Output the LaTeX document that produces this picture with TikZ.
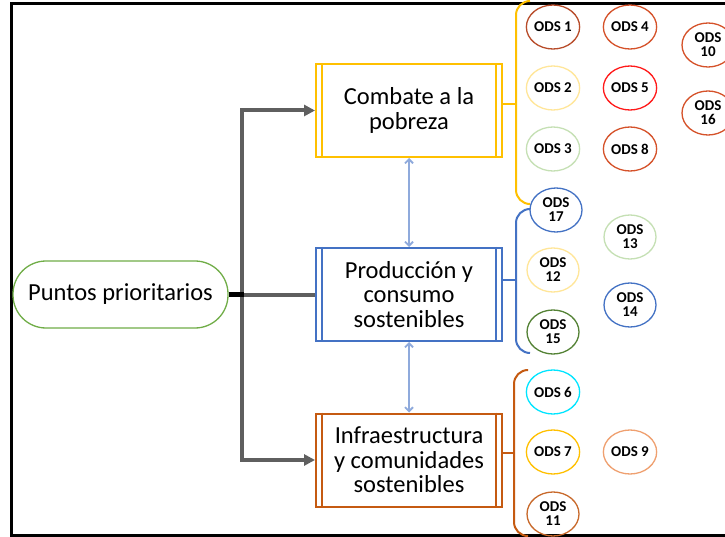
\documentclass[tikz,border=0pt]{standalone}
\usepackage{fontspec}
\setmainfont{Carlito}
\usetikzlibrary{arrows.meta,shapes.geometric}
\definecolor{cyel}{HTML}{FFC000}
\definecolor{cblue}{HTML}{4472C4}
\definecolor{corg}{HTML}{C55A11}
\definecolor{cgreen}{HTML}{70AD47}
\definecolor{clblue}{HTML}{8FAADC}
\definecolor{cgray}{HTML}{5F5F5F}
\definecolor{cbrown}{HTML}{B84C2A}
\definecolor{cred}{HTML}{D5522A}
\definecolor{cpyel}{HTML}{FFE699}
\definecolor{cbright}{HTML}{FF1A1A}
\definecolor{cpgreen}{HTML}{C5E0B4}
\definecolor{cdgreen}{HTML}{548235}
\definecolor{ccyan}{HTML}{00E5FF}
\definecolor{cpeach}{HTML}{EFA070}
\definecolor{cbrorg}{HTML}{C8692B}
\begin{document}
\begin{tikzpicture}[x=1pt,y=-1pt,
  ods/.style={draw, ellipse, minimum width=52pt, minimum height=44pt, inner sep=0pt,
    line width=1.3pt, align=center, font=\fontsize{15}{14}\selectfont\bfseries},
  pbox/.style={draw, line width=2pt, minimum width=186pt, minimum height=93pt,
    align=center, font=\fontsize{24.5}{24.5}\selectfont},
  garrow/.style={cgray, line width=4pt, {Triangle[length=11pt,width=11pt]}-{Triangle[length=11pt,width=11pt]}},
  lbarrow/.style={clblue, line width=1.8pt, {Straight Barb[length=4pt,width=8pt]}-{Straight Barb[length=4pt,width=8pt]}},
  brace/.style={line width=2pt, rounded corners=14pt}]
\clip (0,0) rectangle (725,537);
\fill[white] (0,0) rectangle (725,537);
\draw[line width=3pt] (11,4) rectangle (745,535);

% main nodes
\node[draw=cgreen, line width=1.3pt, rounded corners=33pt, minimum width=215pt, minimum height=67pt,
  font=\fontsize{24.5}{24.5}\selectfont] (pp) at (120.5,294.5) {Puntos prioritarios};
\node[pbox, draw=cyel] (b1) at (409,110.5) {Combate a la\\pobreza};
\node[pbox, draw=cblue] (b2) at (409,294.5) {Producción y\\consumo\\sostenibles};
\node[pbox, draw=corg] (b3) at (409,460) {Infraestructura\\y comunidades\\sostenibles};
\foreach \b/\c in {b1/cyel,b2/cblue,b3/corg}{
  \draw[\c, line width=2pt] ([xshift=7pt]\b.north west) -- ([xshift=7pt]\b.south west);
  \draw[\c, line width=2pt] ([xshift=-7pt]\b.north east) -- ([xshift=-7pt]\b.south east);
}

% trunk
\coordinate (t1) at (242,110.5);
\coordinate (t2) at (242,294.5);
\coordinate (t3) at (242,460);
\draw[garrow] (b1.west) -- (t1) -- (t3) -- (b3.west);
\draw[garrow, {-}] (t2) -- (b2.west);
\draw[black, line width=4.5pt] (pp.east) -- ([xshift=2pt]t2);

% light blue arrows
\draw[lbarrow] (b1.south) -- (b2.north);
\draw[lbarrow] (b2.south) -- (b3.north);

% brackets
\coordinate (y1) at (516,104);
\coordinate (y2) at (516,280);
\coordinate (y3) at (514,453);
\draw[cyel, brace] (530,1) -- (516,1) -- (516,204) -- (530,204);
\draw[cyel, line width=2pt] (b1.east |- y1) -- (y1);
\draw[cblue, brace] (530,209) -- (516,209) -- (516,353) -- (530,353);
\draw[cblue, line width=2pt] (b2.east |- y2) -- (y2);
\draw[corg, brace] (527,370) -- (514,370) -- (514,536) -- (528,536);
\draw[corg, line width=2pt] (b3.east |- y3) -- (y3);

% ODS circles
\node[ods, draw=cbrown] (o1) at (553,27) {ODS 1};
\node[ods, draw=cred] (o4) at (630,27) {ODS 4};
\node[ods, draw=cred] (o10) at (708,45) {ODS\\10};
\node[ods, draw=cpyel] (o2) at (553,88) {ODS 2};
\node[ods, draw=cbright] (o5) at (630,88) {ODS 5};
\node[ods, draw=cred] (o16) at (708,113) {ODS\\16};
\node[ods, draw=cpgreen] (o3) at (553,149) {ODS 3};
\node[ods, draw=cred] (o8) at (630,149) {ODS 8};
\node[ods, draw=cblue] (o17) at (556,210) {ODS\\17};
\node[ods, draw=cpgreen] (o13) at (630,237) {ODS\\13};
\node[ods, draw=cpyel] (o12) at (553,270) {ODS\\12};
\node[ods, draw=cblue] (o14) at (630,305) {ODS\\14};
\node[ods, draw=cdgreen] (o15) at (553,332) {ODS\\15};
\node[ods, draw=ccyan] (o6) at (553,392) {ODS 6};
\node[ods, draw=cyel] (o7) at (553,452) {ODS 7};
\node[ods, draw=cpeach] (o9) at (630,452) {ODS 9};
\node[ods, draw=cbrorg] (o11) at (553,514) {ODS\\11};
\end{tikzpicture}
\end{document}
